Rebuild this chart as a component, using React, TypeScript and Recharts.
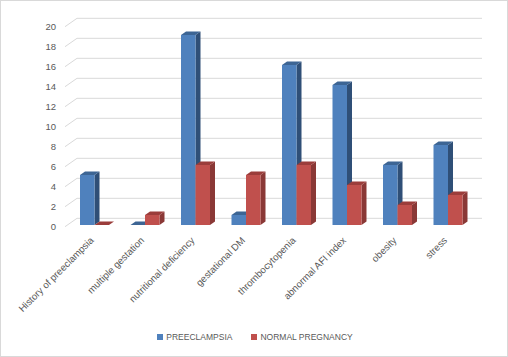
import React from "react";
import { BarChart, Bar, XAxis, YAxis, CartesianGrid } from "recharts";

const categories = [
  "History of preeclampsia",
  "multiple gestation",
  "nutritional deficiency",
  "gestational DM",
  "thrombocytopenia",
  "abnormal AFI index",
  "obesity",
  "stress",
];
const preeclampsia = [5, 0, 19, 1, 16, 14, 6, 8];
const normalPregnancy = [0, 1, 6, 5, 6, 4, 2, 3];
const yTicks = [0, 2, 4, 6, 8, 10, 12, 14, 16, 18, 20];
const seriesNames = ["PREECLAMPSIA", "NORMAL PREGNANCY"];
const seriesColors = ["#4F81BD", "#C0504D"];

const data = categories.map((c, i) => ({
  name: c,
  pre: preeclampsia[i],
  normal: normalPregnancy[i],
}));

const FONT = "'Liberation Sans', Arial, sans-serif";
const TEXT = "#595959";
const DX = 5;
const DY = 3.5;

const make3D = (front: string, side: string, top: string) => (props: any) => {
  const { x, y, width, height } = props;
  if (x == null || y == null) return <g />;
  const h = Math.max(0, height || 0);
  const w = width;
  return (
    <g>
      <polygon
        points={`${x + w},${y} ${x + w + DX},${y - DY} ${x + w + DX},${y + h - DY} ${x + w},${y + h}`}
        fill={side}
      />
      <polygon
        points={`${x},${y} ${x + DX},${y - DY} ${x + w + DX},${y - DY} ${x + w},${y}`}
        fill={top}
      />
      {h > 0 && <rect x={x} y={y} width={w} height={h} fill={front} />}
    </g>
  );
};

const gridLine = (props: any) => {
  const { x1, x2, y1, index } = props;
  return (
    <g key={`gl-${index}`}>
      <line x1={x1 - 4} y1={y1 + 1.7} x2={x1 + 8} y2={y1 - 6.7} stroke="#D9D9D9" strokeWidth={1} />
      <line x1={x1 + 8} y1={y1 - 6.7} x2={x2 + 9} y2={y1 - 6.7} stroke="#D9D9D9" strokeWidth={1} />
    </g>
  );
};

const YTick = (props: any) => {
  const { y, payload } = props;
  return (
    <text x={56} y={y + 2} dy="0.35em" textAnchor="end" fontSize={9.5} fontFamily={FONT} fill={TEXT}>
      {payload.value}
    </text>
  );
};

const XTick = (props: any) => {
  const { x, y, payload } = props;
  const ax = x;
  const ay = y + 8;
  return (
    <text
      x={ax}
      y={ay}
      textAnchor="end"
      fontSize={9.7}
      fontFamily={FONT}
      fill={TEXT}
      transform={`rotate(-45, ${ax}, ${ay})`}
    >
      {payload.value}
    </text>
  );
};

const LegendBox = () => (
  <div
    style={{
      position: "absolute",
      left: 0,
      top: 330,
      width: 508,
      display: "flex",
      justifyContent: "center",
      alignItems: "center",
      fontFamily: FONT,
      fontSize: 8.5,
      color: TEXT,
      lineHeight: "12px",
    }}
  >
    {seriesNames.map((n, i) => (
      <div key={n} style={{ display: "flex", alignItems: "center", marginRight: i === 0 ? 19 : 0 }}>
        <span style={{ width: 6, height: 6, background: seriesColors[i], marginRight: 3, display: "inline-block" }} />
        <span>{n}</span>
      </div>
    ))}
  </div>
);

export default function App() {
  return (
    <div
      style={{
        position: "absolute",
        left: 0,
        top: 0,
        width: 508,
        height: 357,
        border: "1px solid #D9D9D9",
        boxSizing: "border-box",
        background: "#fff",
      }}
    >
      <div style={{ position: "absolute", left: -1, top: -1 }}>
        <BarChart
          width={508}
          height={357}
          data={data}
          margin={{ top: 25, right: 35, left: 0, bottom: 0 }}
          barGap={0}
          barSize={14.5}
        >
          <CartesianGrid vertical={false} horizontal={gridLine} />
          <XAxis
            dataKey="name"
            axisLine={false}
            tickLine={false}
            interval={0}
            tick={<XTick />}
            height={132}
          />
          <YAxis
            domain={[0, 20]}
            ticks={yTicks}
            axisLine={false}
            tickLine={false}
            width={69}
            tick={<YTick />}
            interval={0}
          />
          <Bar dataKey="pre" name={seriesNames[0]} isAnimationActive={false} shape={make3D(seriesColors[0], "#2F4F77", "#3D6594")} />
          <Bar dataKey="normal" name={seriesNames[1]} isAnimationActive={false} shape={make3D(seriesColors[1], "#8A3836", "#9B3D3B")} />
        </BarChart>
      </div>
      <LegendBox />
    </div>
  );
}
